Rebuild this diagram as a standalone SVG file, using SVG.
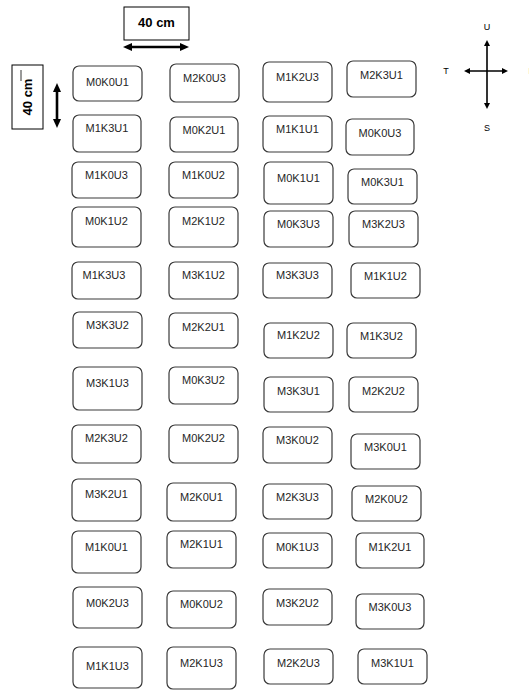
<svg xmlns="http://www.w3.org/2000/svg" width="529" height="690" viewBox="0 0 529 690">
<style>
.b rect{fill:#fff;stroke:#3a3a3a;stroke-width:1.2}
.b text{font-family:"Liberation Sans",Arial,sans-serif;font-size:11px;fill:#262626;text-anchor:middle}
.lbl{font-family:"Liberation Sans",Arial,sans-serif;font-size:13px;font-weight:bold;fill:#000;text-anchor:middle}
.cl{font-family:"Liberation Sans",Arial,sans-serif;font-size:9px;fill:#000;text-anchor:middle}
.frame{fill:#fff;stroke:#000;stroke-width:1}
.arr{stroke:#000;stroke-width:2.6;fill:none}
.carr{stroke:#000;stroke-width:1.6;fill:none}
</style>
<defs>
<marker id="ah" markerUnits="userSpaceOnUse" markerWidth="9" markerHeight="8" viewBox="0 0 9 8" refX="1" refY="4" orient="auto-start-reverse"><path d="M0,0 L9,4 L0,8 z" fill="#000"/></marker>
<marker id="ch" markerUnits="userSpaceOnUse" markerWidth="6" markerHeight="6" viewBox="0 0 6 6" refX="1" refY="3" orient="auto-start-reverse"><path d="M0,0 L6,3 L0,6 z" fill="#000"/></marker>
</defs>
<g id="scale-h">
<rect class="frame" x="124" y="7" width="65" height="33"/>
<text class="lbl" x="156.5" y="27">40 cm</text>
</g>
<g id="scale-v">
<rect class="frame" x="12" y="65" width="31" height="64"/>
<text class="lbl" transform="translate(32,97) rotate(-90)" x="0" y="0">40 cm</text>
<line x1="21" y1="70" x2="21" y2="81" stroke="#000" stroke-width="0.8"/>
</g>
<g id="compass">
<text class="cl" x="487" y="30">U</text>
<text class="cl" x="446" y="74">T</text>
<text class="cl" x="487" y="131">S</text>
<text class="cl" x="531.5" y="74">B</text>
</g>
<g id="connectors">
<line class="arr" x1="131" y1="47" x2="181" y2="47" marker-start="url(#ah)" marker-end="url(#ah)"/>
<line class="arr" x1="57" y1="91" x2="57" y2="120" marker-start="url(#ah)" marker-end="url(#ah)"/>
<line class="carr" x1="487" y1="45" x2="487" y2="104" marker-start="url(#ch)" marker-end="url(#ch)"/>
<line class="carr" x1="469" y1="71" x2="503" y2="71" marker-start="url(#ch)" marker-end="url(#ch)"/>
</g>
<g class="b">
<g id="M0K0U1"><rect x="73" y="66" width="69" height="35" rx="6"/><text x="107.5" y="86">M0K0U1</text></g>
<g id="M1K3U1"><rect x="73" y="115" width="68" height="37" rx="6"/><text x="107" y="132">M1K3U1</text></g>
<g id="M1K0U3"><rect x="72" y="162" width="69" height="36" rx="6"/><text x="106.5" y="179">M1K0U3</text></g>
<g id="M0K1U2"><rect x="72" y="207" width="69" height="40" rx="6"/><text x="106.5" y="225">M0K1U2</text></g>
<g id="M1K3U3"><rect x="72" y="262" width="69" height="37" rx="6"/><text x="104" y="279">M1K3U3</text></g>
<g id="M3K3U2"><rect x="73" y="312" width="69" height="36" rx="6"/><text x="107.5" y="329">M3K3U2</text></g>
<g id="M3K1U3"><rect x="73" y="367" width="69" height="43" rx="6"/><text x="107.5" y="387">M3K1U3</text></g>
<g id="M2K3U2"><rect x="72" y="425" width="69" height="38" rx="6"/><text x="106.5" y="442">M2K3U2</text></g>
<g id="M3K2U1"><rect x="72" y="479" width="69" height="42" rx="6"/><text x="106.5" y="498">M3K2U1</text></g>
<g id="M1K0U1"><rect x="72" y="531" width="69" height="42" rx="6"/><text x="106.5" y="551">M1K0U1</text></g>
<g id="M0K2U3"><rect x="73" y="587" width="69" height="41" rx="6"/><text x="107.5" y="607">M0K2U3</text></g>
<g id="M1K1U3"><rect x="73" y="647" width="69" height="41" rx="6"/><text x="107.5" y="670">M1K1U3</text></g>

<g id="M2K0U3"><rect x="170" y="64" width="69" height="38" rx="6"/><text x="204.5" y="82">M2K0U3</text></g>
<g id="M0K2U1"><rect x="170" y="117" width="68" height="35" rx="6"/><text x="204" y="134">M0K2U1</text></g>
<g id="M1K0U2"><rect x="169" y="162" width="69" height="36" rx="6"/><text x="203.5" y="179">M1K0U2</text></g>
<g id="M2K1U2"><rect x="169" y="207" width="69" height="40" rx="6"/><text x="203.5" y="225">M2K1U2</text></g>
<g id="M3K1U2"><rect x="169" y="262" width="69" height="37" rx="6"/><text x="203.5" y="279">M3K1U2</text></g>
<g id="M2K2U1"><rect x="169" y="313" width="69" height="35" rx="6"/><text x="203.5" y="331">M2K2U1</text></g>
<g id="M0K3U2"><rect x="169" y="367" width="69" height="37" rx="6"/><text x="203.5" y="384">M0K3U2</text></g>
<g id="M0K2U2"><rect x="169" y="425" width="69" height="38" rx="6"/><text x="203.5" y="442">M0K2U2</text></g>
<g id="M2K0U1"><rect x="167" y="483" width="69" height="38" rx="6"/><text x="201.5" y="501">M2K0U1</text></g>
<g id="M2K1U1"><rect x="167" y="531" width="69" height="37" rx="6"/><text x="201.5" y="548">M2K1U1</text></g>
<g id="M0K0U2"><rect x="167" y="591" width="69" height="37" rx="6"/><text x="201.5" y="608">M0K0U2</text></g>
<g id="M2K1U3"><rect x="167" y="647" width="69" height="42" rx="6"/><text x="201.5" y="667">M2K1U3</text></g>

<g id="M1K2U3"><rect x="263" y="62" width="69" height="40" rx="6"/><text x="297.5" y="81">M1K2U3</text></g>
<g id="M1K1U1"><rect x="263" y="116" width="69" height="36" rx="6"/><text x="297.5" y="133">M1K1U1</text></g>
<g id="M0K1U1"><rect x="264" y="162" width="69" height="42" rx="6"/><text x="298.5" y="182">M0K1U1</text></g>
<g id="M0K3U3"><rect x="264" y="211" width="69" height="36" rx="6"/><text x="298.5" y="228">M0K3U3</text></g>
<g id="M3K3U3"><rect x="263" y="263" width="69" height="35" rx="6"/><text x="297.5" y="279">M3K3U3</text></g>
<g id="M1K2U2"><rect x="264" y="323" width="69" height="35" rx="6"/><text x="298.5" y="339">M1K2U2</text></g>
<g id="M3K3U1"><rect x="264" y="377" width="69" height="35" rx="6"/><text x="298.5" y="395">M3K3U1</text></g>
<g id="M3K0U2"><rect x="263" y="427" width="69" height="36" rx="6"/><text x="297.5" y="444">M3K0U2</text></g>
<g id="M2K3U3"><rect x="263" y="484" width="69" height="35" rx="6"/><text x="297.5" y="501">M2K3U3</text></g>
<g id="M0K1U3"><rect x="263" y="533" width="69" height="35" rx="6"/><text x="297.5" y="551">M0K1U3</text></g>
<g id="M3K2U2"><rect x="263" y="589" width="69" height="36" rx="6"/><text x="297.5" y="607">M3K2U2</text></g>
<g id="M2K2U3"><rect x="264" y="649" width="69" height="35" rx="6"/><text x="298.5" y="667">M2K2U3</text></g>

<g id="M2K3U1"><rect x="347" y="61" width="69" height="36" rx="6"/><text x="381.5" y="79">M2K3U1</text></g>
<g id="M0K0U3"><rect x="346" y="119" width="68" height="36" rx="6"/><text x="380" y="137">M0K0U3</text></g>
<g id="M0K3U1"><rect x="348" y="169" width="69" height="35" rx="6"/><text x="382.5" y="186">M0K3U1</text></g>
<g id="M3K2U3"><rect x="349" y="211" width="69" height="36" rx="6"/><text x="383.5" y="228">M3K2U3</text></g>
<g id="M1K1U2"><rect x="351" y="263" width="69" height="35" rx="6"/><text x="385.5" y="280">M1K1U2</text></g>
<g id="M1K3U2"><rect x="347" y="323" width="69" height="35" rx="6"/><text x="381.5" y="340">M1K3U2</text></g>
<g id="M2K2U2"><rect x="349" y="377" width="69" height="35" rx="6"/><text x="383.5" y="395">M2K2U2</text></g>
<g id="M3K0U1"><rect x="351" y="434" width="69" height="35" rx="6"/><text x="385.5" y="451">M3K0U1</text></g>
<g id="M2K0U2"><rect x="352" y="486" width="69" height="35" rx="6"/><text x="386.5" y="503">M2K0U2</text></g>
<g id="M1K2U1"><rect x="356" y="533" width="68" height="35" rx="6"/><text x="390" y="551">M1K2U1</text></g>
<g id="M3K0U3"><rect x="356" y="594" width="68" height="35" rx="6"/><text x="390" y="611">M3K0U3</text></g>
<g id="M3K1U1"><rect x="358" y="649" width="69" height="35" rx="6"/><text x="392.5" y="667">M3K1U1</text></g>
</g>
</svg>
